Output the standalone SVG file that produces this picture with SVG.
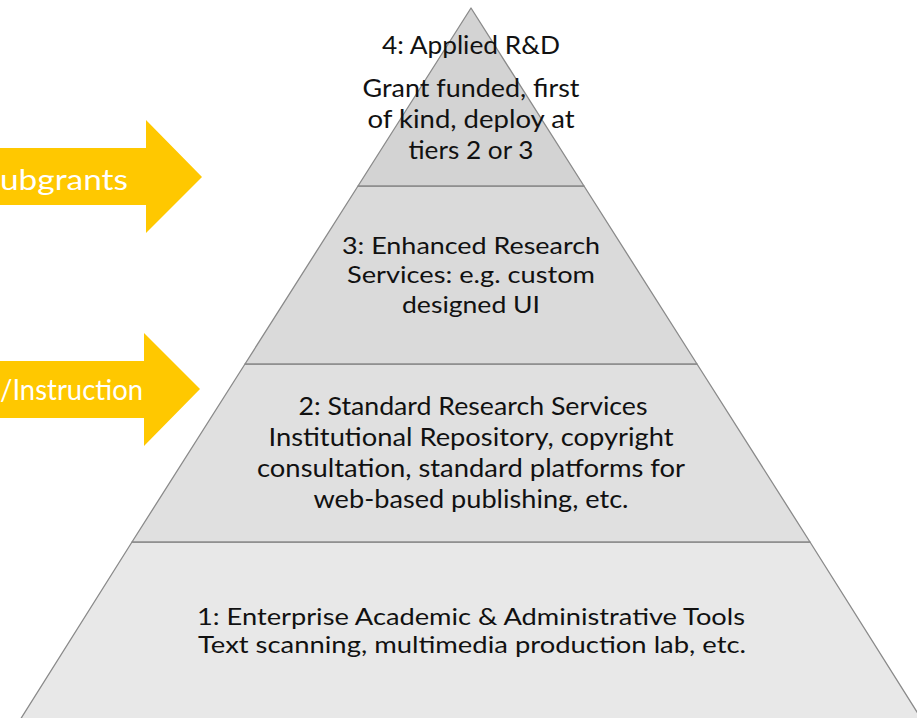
<svg xmlns="http://www.w3.org/2000/svg" width="917" height="718" viewBox="0 0 917 718">
<style>
.tier{stroke:#8a8a8a;stroke-width:1.3;stroke-linejoin:round}
.t{font-family:Lato,"Open Sans","Liberation Sans",sans-serif;fill:#111;text-anchor:middle}
.a{fill:#FFC800}
.at{font-family:Lato,"Open Sans","Liberation Sans",sans-serif;fill:#ffffff;font-size:29px;text-anchor:end}
</style>
<rect width="917" height="718" fill="#ffffff"/>
<g id="arrow-subgrants">
<polygon class="a" points="0,148 146,148 146,120 202,177 146,233 146,205 0,205"/>
<text class="at" x="128" y="190" textLength="128" lengthAdjust="spacingAndGlyphs">ubgrants</text>
</g>
<g id="arrow-instruction">
<polygon class="a" points="0,361 144,361 144,333 200,389 144,446 144,418 0,418"/>
<text class="at" x="143" y="400" textLength="143" lengthAdjust="spacingAndGlyphs">/Instruction</text>
</g>
<g id="tier1">
<polygon class="tier" fill="#e8e8e8" points="132,542 810,542 922,720 20,720"/>
<text class="t" font-size="22.5" x="471" y="625" textLength="548" lengthAdjust="spacingAndGlyphs">1: Enterprise Academic &amp; Administrative Tools</text>
<text class="t" font-size="22.5" x="472" y="653" textLength="548" lengthAdjust="spacingAndGlyphs">Text scanning, multimedia production lab, etc.</text>
</g>
<g id="tier2">
<polygon class="tier" fill="#e0e0e0" points="245,364 697,364 810,542 132,542"/>
<text class="t" font-size="25" x="473" y="415" textLength="349" lengthAdjust="spacingAndGlyphs">2: Standard Research Services</text>
<text class="t" font-size="25" x="471" y="446" textLength="405" lengthAdjust="spacingAndGlyphs">Institutional Repository, copyright</text>
<text class="t" font-size="25" x="471" y="477" textLength="428" lengthAdjust="spacingAndGlyphs">consultation, standard platforms for</text>
<text class="t" font-size="25" x="471" y="508" textLength="315" lengthAdjust="spacingAndGlyphs">web-based publishing, etc.</text>
</g>
<g id="tier3">
<polygon class="tier" fill="#dadada" points="358,186 584,186 697,364 245,364"/>
<text class="t" font-size="24" x="471" y="254" textLength="258" lengthAdjust="spacingAndGlyphs">3: Enhanced Research</text>
<text class="t" font-size="24" x="471" y="283" textLength="248" lengthAdjust="spacingAndGlyphs">Services: e.g. custom</text>
<text class="t" font-size="24" x="471" y="313" textLength="138" lengthAdjust="spacingAndGlyphs">designed UI</text>
</g>
<g id="tier4">
<polygon class="tier" fill="#d3d3d3" points="471,8 584,186 358,186"/>
<text class="t" font-size="25" x="471" y="54" textLength="178" lengthAdjust="spacingAndGlyphs">4: Applied R&amp;D</text>
<text class="t" font-size="25" x="471" y="97" textLength="217" lengthAdjust="spacingAndGlyphs">Grant funded, first</text>
<text class="t" font-size="25" x="471" y="128" textLength="207" lengthAdjust="spacingAndGlyphs">of kind, deploy at</text>
<text class="t" font-size="25" x="471" y="159" textLength="125" lengthAdjust="spacingAndGlyphs">tiers 2 or 3</text>
</g>
<g id="connectors"></g>
</svg>
